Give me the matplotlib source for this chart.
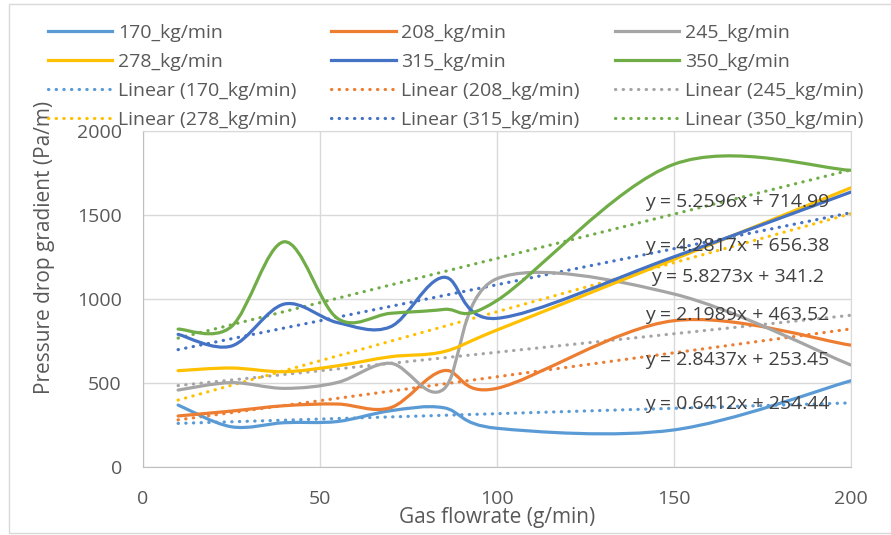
import numpy as np
import matplotlib
matplotlib.use('Agg')
import matplotlib.pyplot as plt
from matplotlib.path import Path
from matplotlib.patches import PathPatch, Rectangle
from matplotlib.lines import Line2D

# gas flowrate (g/min)
gas_flow = [10, 25, 40, 55, 70, 85, 100, 150, 200]

# pressure drop gradient (Pa/m) per liquid flowrate
series_names = ['170_kg/min', '208_kg/min', '245_kg/min', '278_kg/min', '315_kg/min', '350_kg/min']
dp_170 = [370, 241, 265, 272, 336, 354, 232, 222, 514]
dp_208 = [305, 334, 366, 376, 354, 574, 469, 871, 726]
dp_245 = [459, 503, 469, 504, 618, 464, 1120, 1030, 608]
dp_278 = [574, 590, 568, 603, 657, 687, 815, 1235, 1660]
dp_315 = [790, 720, 970, 860, 835, 1129, 885, 1250, 1635]
dp_350 = [821, 835, 1340, 885, 915, 938, 990, 1800, 1765]

# linear trendlines as printed on the chart
slopes = [0.6412, 2.8437, 2.1989, 5.8273, 4.2817, 5.2596]
intercepts = [254.44, 253.45, 463.52, 341.2, 656.38, 714.99]
eq_x = [168, 168, 168, 168, 168, 168]
eq_y = [378, 637, 905, 1131, 1316, 1576]

colors = ['#5B9BD5', '#ED7D31', '#A5A5A5', '#FFC000', '#4472C4', '#70AD47']
all_dp = [dp_170, dp_208, dp_245, dp_278, dp_315, dp_350]

plt.rcParams['font.family'] = ['Open Sans', 'DejaVu Sans']


def smooth_path(xs, ys):
    # excel-like smoothed line (catmull-rom as bezier)
    pts = np.column_stack([xs, ys]).astype(float)
    n = len(pts)
    verts = [pts[0]]
    codes = [Path.MOVETO]
    for i in range(n - 1):
        p0 = pts[i - 1] if i > 0 else pts[i]
        p1 = pts[i]
        p2 = pts[i + 1]
        p3 = pts[i + 2] if i + 2 < n else pts[i + 1]
        verts += [p1 + (p2 - p0) / 6, p2 - (p3 - p1) / 6, p2]
        codes += [Path.CURVE4] * 3
    return Path(verts, codes)


fig = plt.figure(figsize=(8.91, 5.35), dpi=100)
fig.patches.append(Rectangle((8.5 / 891, 2 / 535), 1.0, 529 / 535, transform=fig.transFigure,
                             fill=False, edgecolor='#D9D9D9', linewidth=1.0))
ax = fig.add_axes([142.7 / 891, 1 - 467.3 / 535, 708 / 891, 336.6 / 535])

lw = 2.3
dot_style = (0, (0.1, 2.3))

for dp, c in zip(all_dp, colors):
    ax.add_patch(PathPatch(smooth_path(gas_flow, dp), fill=False, edgecolor=c,
                           linewidth=lw, capstyle='round', joinstyle='round', zorder=3))

trend_x = np.array([gas_flow[0], gas_flow[-1]])
for m, b, c in zip(slopes, intercepts, colors):
    ax.plot(trend_x, m * trend_x + b, color=c, linewidth=lw, linestyle=dot_style,
            dash_capstyle='round', zorder=2)

for m, b, tx, ty in zip(slopes, intercepts, eq_x, eq_y):
    ax.text(tx, ty, f'y = {m}x + {b}', ha='center', va='center', fontsize=14,
            color='#404040', zorder=4)

ax.set_xlim(0, 200)
ax.set_ylim(0, 2000)
ax.set_xticks([0, 50, 100, 150, 200])
ax.set_yticks([0, 500, 1000, 1500, 2000])
ax.grid(True, color='#D9D9D9', linewidth=1.0)
ax.set_axisbelow(True)
for s in ax.spines.values():
    s.set_color('#D9D9D9')
ax.spines['left'].set_color('#BFBFBF')
ax.spines['bottom'].set_color('#BFBFBF')
ax.tick_params(length=0, labelsize=14, labelcolor='#595959')
ax.tick_params(axis='x', pad=16)
ax.tick_params(axis='y', pad=15)

fig.text(497 / 891, 1 - 517 / 535, 'Gas flowrate (g/min)', ha='center', va='center',
         fontsize=15, color='#595959')
fig.text(45 / 891, 1 - 247 / 535, 'Pressure drop gradient (Pa/m)', ha='center', va='center',
         rotation=90, fontsize=15, color='#595959')

# legend: row-wise order in 3 columns
solid = [Line2D([], [], color=c, linewidth=lw) for c in colors]
dotted = [Line2D([], [], color=c, linewidth=lw, linestyle=dot_style, dash_capstyle='round')
          for c in colors]
labels = series_names + ['Linear (' + n + ')' for n in series_names]
handles = solid + dotted
order = [r * 3 + c for c in range(3) for r in range(4)]
fig.legend([handles[i] for i in order], [labels[i] for i in order], ncol=3,
           loc='upper left', bbox_to_anchor=(48 / 891, 1 - 24 / 535), frameon=False,
           fontsize=14, labelcolor='#595959', handlelength=3.3, handletextpad=0.3,
           columnspacing=1.8, labelspacing=0.57, borderpad=0, borderaxespad=0)

fig.savefig('out.png', dpi=100)
